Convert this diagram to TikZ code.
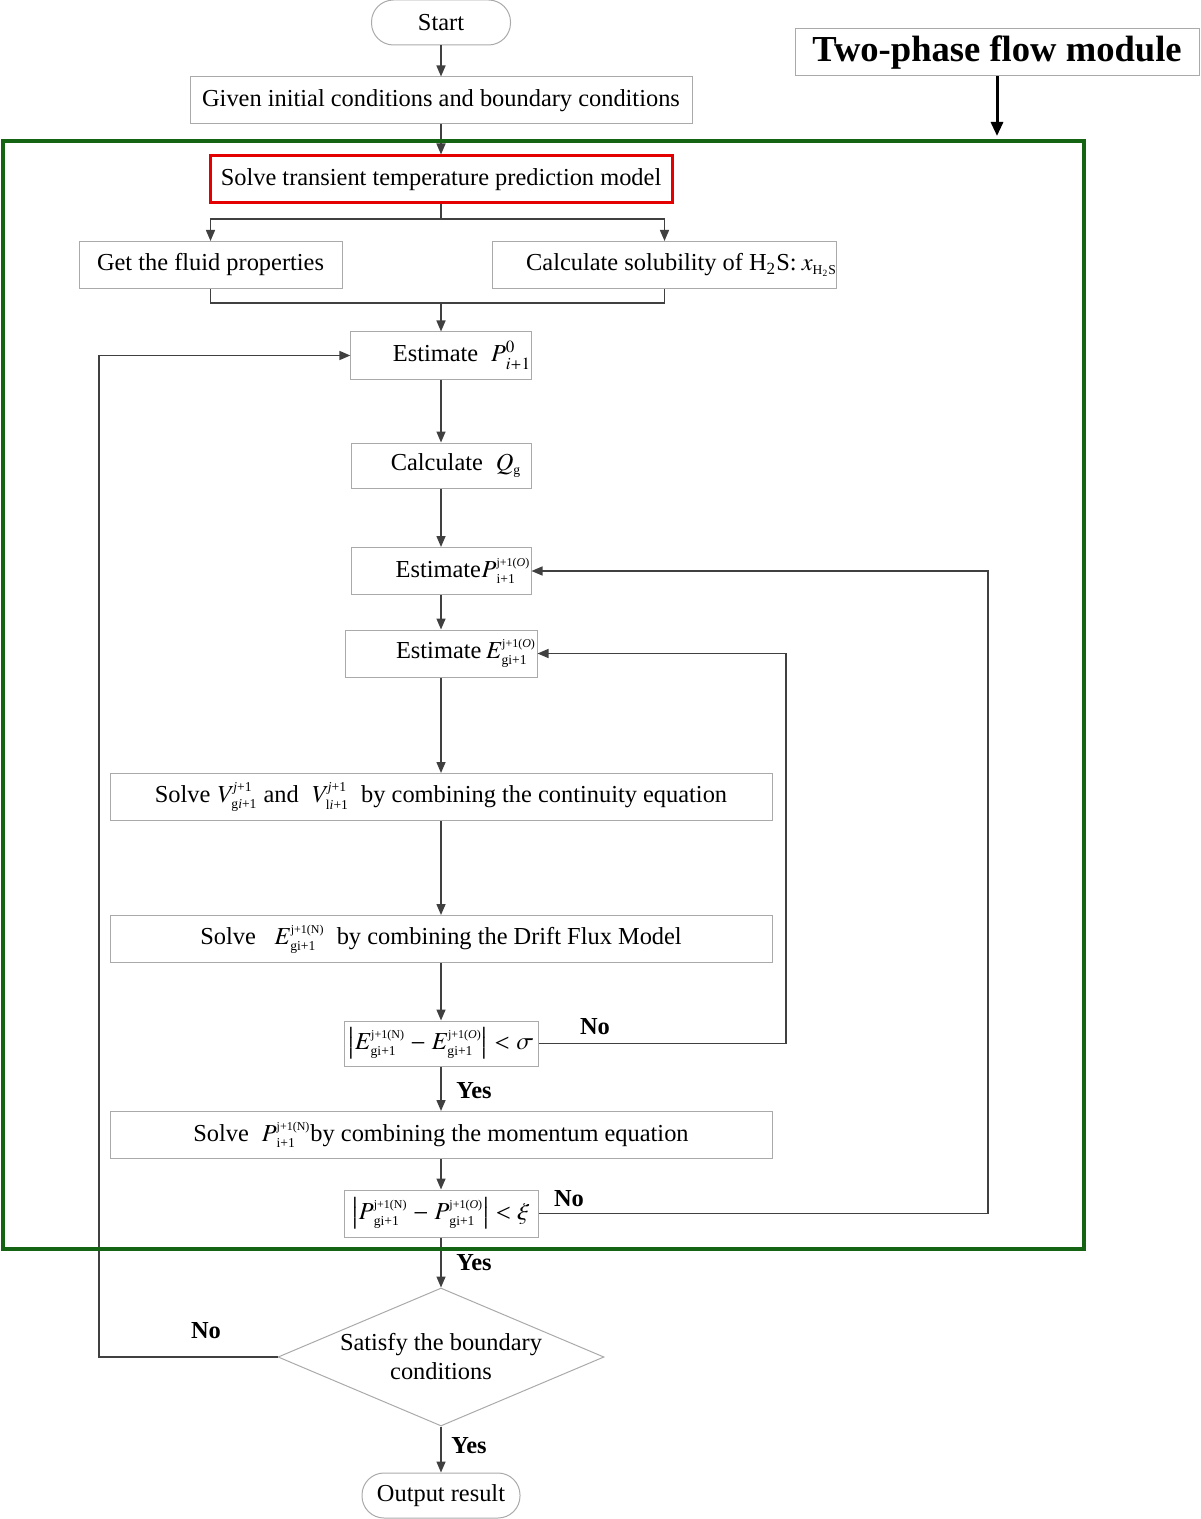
\documentclass[tikz,border=0pt]{standalone}
\usepackage{txfonts}
\usepackage[no-math]{fontspec}
\setmainfont{Liberation Serif}
\usetikzlibrary{shapes.geometric,arrows.meta}
\definecolor{boksgraa}{RGB}{170,170,170}
\definecolor{pilgraa}{RGB}{64,64,64}
\definecolor{modulgroenn}{RGB}{20,100,20}
\definecolor{modellrod}{RGB}{228,0,0}
\newcommand{\brodtekst}{\fontsize{12.2}{14.5}\selectfont}
\newcommand{\tittelfont}{\fontsize{18.3}{20}\selectfont\bfseries}
\newcommand{\lite}[1]{\mbox{\fontsize{6.8}{8}\selectfont #1}}
\newcommand{\liten}[1]{\mbox{\fontsize{6.0}{7}\selectfont #1}}
\newcommand{\gi}{\lite{gi+1}}
\newcommand{\jO}{\liten{j+1(\textit{O})}}
\newcommand{\jN}{\liten{j+1(N)}}

\begin{document}
\begin{tikzpicture}[
    x=0.5pt, y=-0.5pt,
    every node/.style={inner sep=0pt, font=\brodtekst},
    punkt/.style={rectangle, draw=boksgraa, line width=0.5pt,
        minimum height=23.5pt},
    rundpunkt/.style={punkt, rounded corners=11pt, minimum height=22.5pt},
    valg/.style={diamond, draw=boksgraa, line width=0.5pt, align=center,
        aspect=2.36, minimum width=163pt, minimum height=69pt},
    pil/.style={draw=pilgraa, line width=0.75pt,
        -{Triangle[length=5.5pt,width=4.5pt]}},
    linje/.style={draw=pilgraa, line width=0.75pt},
    svar/.style={font=\brodtekst\bfseries}
    ]
\useasboundingbox (0,0) rectangle (1200,1519);

%Top part
\node[rundpunkt, minimum width=69.5pt] (start) at (441,22.5) {Start};
\node[punkt, minimum width=251pt] (gitt) at (441,100.5)
    {Given initial conditions and boundary conditions};
\node[punkt, font=\tittelfont, minimum width=202pt] (modul) at (997,52.5)
    {Two-phase flow module};
\coordinate (modultopp) at (997,136);
\node[punkt, draw=modellrod, line width=1.5pt, minimum width=231pt]
    (temp) at (441,179.5) {Solve transient temperature prediction model};
\node[punkt, minimum width=131.5pt] (egensk) at (210.5,265)
    {Get the fluid properties};
\node[punkt, minimum width=171.5pt] (loeslig) at (664.5,265)
    {\hspace*{17pt}Calculate solubility of H\textsubscript{2}S:\,$x_{\lite{H\textsubscript{2}S}}$};

%Inner loops
\node[punkt, minimum width=90pt] (estP0) at (441,355.5)
    {\hspace*{21pt}Estimate \ $P_{i+1}^{0}$};
\node[punkt, minimum width=90pt, minimum height=22.5pt] (beregnQ) at (441,465.5)
    {\hspace*{15pt}Calculate \ $Q_{\lite{g}}$};
\node[punkt, minimum width=90pt] (estP) at (441,571)
    {\hspace*{22pt}Estimate$P_{\lite{i+1}}^{\jO}$};
\node[punkt, minimum width=96pt] (estE) at (441,653.5)
    {\hspace*{25pt}Estimate$\,E_{\gi}^{\jO}$};
\node[punkt, minimum width=331pt] (loesV) at (441,797)
    {Solve $V_{\lite{g\textit{i}+1}}^{\lite{\textit{j}+1}}$ and \ $V_{\lite{l\textit{i}+1}}^{\lite{\textit{j}+1}}$ \ by combining the continuity equation};
\node[punkt, minimum width=331pt] (loesE) at (441,939)
    {Solve \ \ $E_{\gi}^{\jN}$ \ by combining the Drift Flux Model};
\node[punkt, minimum width=97pt, minimum height=22.5pt] (sjekkE) at (441,1043.5)
    {$\left|E_{\gi}^{\jN}-E_{\gi}^{\jO}\right|<\sigma$};
\node[punkt, minimum width=331pt] (loesP) at (441,1135)
    {Solve \ $P_{\lite{i+1}}^{\jN}$by combining the momentum equation};
\node[punkt, minimum width=97pt] (sjekkP) at (441,1213.5)
    {$\left|P_{\gi}^{\jN}-P_{\gi}^{\jO}\right|<\xi$};

%Bottom part
\node[valg] (grense) at (441,1357) {Satisfy the boundary\\conditions};
\node[rundpunkt, minimum width=79pt] (utdata) at (441,1495.5) {Output result};

%Yes and No
\node[svar] (jaE) at (474,1091) {Yes};
\node[svar] (neiE) at (595,1027) {No};
\node[svar] (jaP) at (474,1263) {Yes};
\node[svar] (neiP) at (569,1199) {No};
\node[svar] (neiG) at (206,1331) {No};
\node[svar] (jaG) at (469,1446) {Yes};

\coordinate (deling) at (441,219);
\coordinate (samling) at (441,303);
\coordinate (hoyreE) at (786,0);
\coordinate (hoyreP) at (988,0);
\coordinate (venstre) at (99,0);

\draw[pil] (start) -- (gitt);
\draw[pil] (gitt) -- (temp);
\draw[linje] (temp) -- (deling);
\draw[pil] (deling) -| (egensk.north);
\draw[pil] (deling) -| (loeslig.north);
\draw[linje] (egensk.south) |- (samling) -| (loeslig.south);
\draw[pil] (samling) -- (estP0);
\draw[pil] (estP0) -- (beregnQ);
\draw[pil] (beregnQ) -- (estP);
\draw[pil] (estP) -- (estE);
\draw[pil] (estE) -- (loesV);
\draw[pil] (loesV) -- (loesE);
\draw[pil] (loesE) -- (sjekkE);
\draw[pil] (sjekkE) -- (loesP);
\draw[pil] (loesP) -- (sjekkP);
\draw[pil] (sjekkP) -- (grense);
\draw[pil] (grense) -- (utdata);
%No branches
\draw[pil] (sjekkE.east) -- (sjekkE.east -| hoyreE) -- (estE.east -| hoyreE) -- (estE.east);
\draw[pil] (sjekkP.east) -- (sjekkP.east -| hoyreP) -- (estP.east -| hoyreP) -- (estP.east);
\draw[pil] (grense.west) -- (grense.west -| venstre) -- (estP0.west -| venstre) -- (estP0.west);

%Module frame
\draw[modulgroenn, line width=2pt] (3,141) rectangle (1084,1249);
\draw[line width=1.5pt, -{Triangle[length=7pt,width=6pt]}] (modul) -- (modultopp);
\end{tikzpicture}
\end{document}
